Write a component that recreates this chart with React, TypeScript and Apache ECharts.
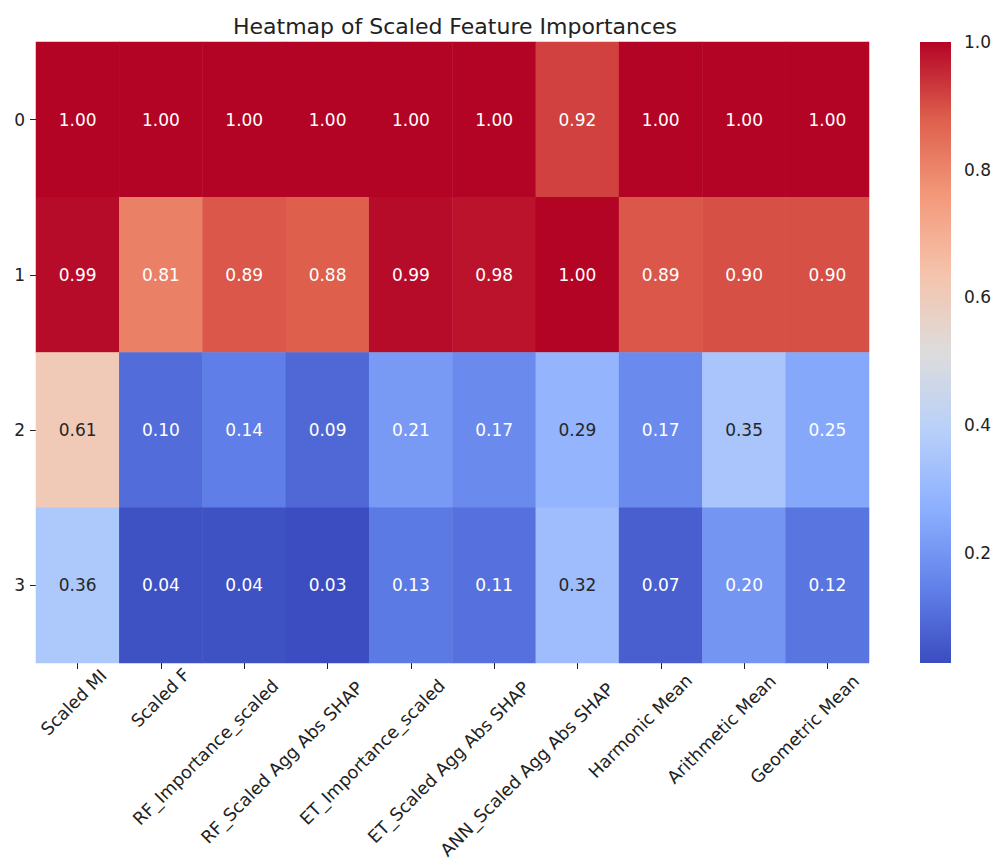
import React, { useEffect, useRef } from "react";
import * as echarts from "echarts";

const features = [
  "Scaled MI",
  "Scaled F",
  "RF_Importance_scaled",
  "RF_Scaled Agg Abs SHAP",
  "ET_Importance_scaled",
  "ET_Scaled Agg Abs SHAP",
  "ANN_Scaled Agg Abs SHAP",
  "Harmonic Mean",
  "Arithmetic Mean",
  "Geometric Mean",
];
const rows = ["0", "1", "2", "3"];
const row0 = [1.0, 1.0, 1.0, 1.0, 1.0, 1.0, 0.92, 1.0, 1.0, 1.0];
const row1 = [0.99, 0.81, 0.89, 0.88, 0.99, 0.98, 1.0, 0.89, 0.9, 0.9];
const row2 = [0.61, 0.1, 0.14, 0.09, 0.21, 0.17, 0.29, 0.17, 0.35, 0.25];
const row3 = [0.36, 0.04, 0.04, 0.03, 0.13, 0.11, 0.32, 0.07, 0.2, 0.12];
const colorbarTicks = [0.2, 0.4, 0.6, 0.8, 1.0];
const vmin = 0.027;
const vmax = 1.0;

const coolwarm = [
  "#3b4cc0",
  "#6282ea",
  "#8db0fe",
  "#b8d0f9",
  "#dddcdc",
  "#f5c4ad",
  "#f49a7b",
  "#de604d",
  "#b40426",
];
// values whose cells are light enough for dark annotation text
const darkTextThreshold = [0.27, 0.72];

const FONT = "DejaVu Sans";
const FS = 17;
const XFS = 17.6;
const LH = 20;

function measure(text: string): number {
  const c = document.createElement("canvas");
  const ctx = c.getContext("2d");
  if (!ctx) return text.length * FS * 0.6;
  ctx.font = `${FS}px "${FONT}"`;
  return ctx.measureText(text).width;
}

export default function App() {
  const ref = useRef<HTMLDivElement>(null);
  useEffect(() => {
    if (!ref.current) return;
    const chart = echarts.init(ref.current, null, { renderer: "svg" });
    const allRows = [row0, row1, row2, row3];
    const data: any[] = [];
    allRows.forEach((r, ri) => {
      r.forEach((v, ci) => {
        const light = v >= darkTextThreshold[0] && v <= darkTextThreshold[1];
        data.push({
          value: [ci, ri, v],
          label: { color: light ? "#262626" : "#ffffff" },
        });
      });
    });
    const gradStops = coolwarm.map((c, i) => ({
      offset: i / (coolwarm.length - 1),
      color: c,
    }));
    // place the rotated labels like the reference: shift each one backwards
    // along its text (right padding) and down across it (spacer line)
    const widths = features.map((f) => measure(f));
    const backPad = widths.map((w) => Math.max(0, 1.1 * w - 40));
    const downPad = widths.map((w) => 23 + 0.198 * w);
    const rich: any = {
      t: {
        fontFamily: FONT,
        fontSize: XFS,
        color: "#222",
        lineHeight: LH,
        height: LH,
      },
    };
    downPad.forEach((p, i) => {
      rich["s" + i] = { fontSize: 1, lineHeight: p, height: p };
    });
    const xData = features.map((f, i) => ({
      value: f,
      textStyle: {
        align: "center",
        verticalAlign: "middle",
        padding: [0, backPad[i], 0, 0],
      },
    }));
    chart.setOption({
      animation: false,
      backgroundColor: "#ffffff",
      title: {
        text: "Heatmap of Scaled Feature Importances",
        left: 450,
        textAlign: "center",
        top: 10,
        textStyle: {
          fontFamily: FONT,
          fontSize: 22,
          fontWeight: "normal",
          color: "#222",
        },
      },
      grid: [
        {
          left: 36,
          right: 126,
          top: 42,
          bottom: 202,
          containLabel: false,
          outerBoundsMode: "none",
        },
        {
          left: 920,
          width: 31,
          top: 42,
          bottom: 202,
          containLabel: false,
          outerBoundsMode: "none",
        },
      ],
      xAxis: [
        {
          type: "category",
          data: xData,
          gridIndex: 0,
          axisLine: { show: false },
          axisTick: {
            show: true,
            alignWithLabel: true,
            length: 6,
            lineStyle: { color: "#222" },
          },
          axisLabel: {
            rotate: 45,
            interval: 0,
            align: "center",
            verticalAlign: "middle",
            fontFamily: FONT,
            fontSize: XFS,
            color: "#222",
            margin: 8,
            rich,
            formatter: (v: string, i: number) => `{s${i}| }\n{t|${v}}`,
          },
          splitLine: { show: false },
        },
        {
          type: "value",
          gridIndex: 1,
          min: 0,
          max: 1,
          show: false,
        },
      ],
      yAxis: [
        {
          type: "category",
          data: rows,
          gridIndex: 0,
          inverse: true,
          axisLine: { show: false },
          axisTick: {
            show: true,
            alignWithLabel: true,
            length: 6,
            lineStyle: { color: "#222" },
          },
          axisLabel: {
            fontFamily: FONT,
            fontSize: FS,
            color: "#222",
            margin: 11,
          },
          splitLine: { show: false },
        },
        {
          type: "value",
          gridIndex: 1,
          position: "right",
          min: vmin,
          max: vmax,
          axisLine: { show: false },
          splitLine: { show: false },
          axisTick: {
            show: true,
            length: 6,
            customValues: colorbarTicks,
            lineStyle: { color: "#222" },
          },
          axisLabel: {
            customValues: colorbarTicks,
            formatter: (v: number) => v.toFixed(1),
            fontFamily: FONT,
            fontSize: FS,
            color: "#222",
            margin: 13,
          },
        },
      ],
      visualMap: {
        show: false,
        type: "continuous",
        min: vmin,
        max: vmax,
        seriesIndex: 0,
        inRange: { color: coolwarm },
      },
      series: [
        {
          type: "heatmap",
          xAxisIndex: 0,
          yAxisIndex: 0,
          data,
          itemStyle: { borderWidth: 0 },
          label: {
            show: true,
            fontFamily: FONT,
            fontSize: FS,
            formatter: (p: any) => p.value[2].toFixed(2),
          },
          emphasis: { disabled: true },
        },
        {
          type: "custom",
          xAxisIndex: 1,
          yAxisIndex: 1,
          data: [[0, vmin, 1, vmax]],
          renderItem: (params: any, api: any) => {
            const p0 = api.coord([api.value(0), api.value(1)]);
            const p1 = api.coord([api.value(2), api.value(3)]);
            return {
              type: "rect",
              shape: {
                x: p0[0],
                y: p1[1],
                width: p1[0] - p0[0],
                height: p0[1] - p1[1],
              },
              style: {
                fill: new echarts.graphic.LinearGradient(0, 1, 0, 0, gradStops),
              },
            };
          },
          silent: true,
        },
      ],
    });
    return () => chart.dispose();
  }, []);
  return (
    <div
      ref={ref}
      style={{ position: "fixed", left: 0, top: 0, width: 995, height: 865 }}
    />
  );
}
